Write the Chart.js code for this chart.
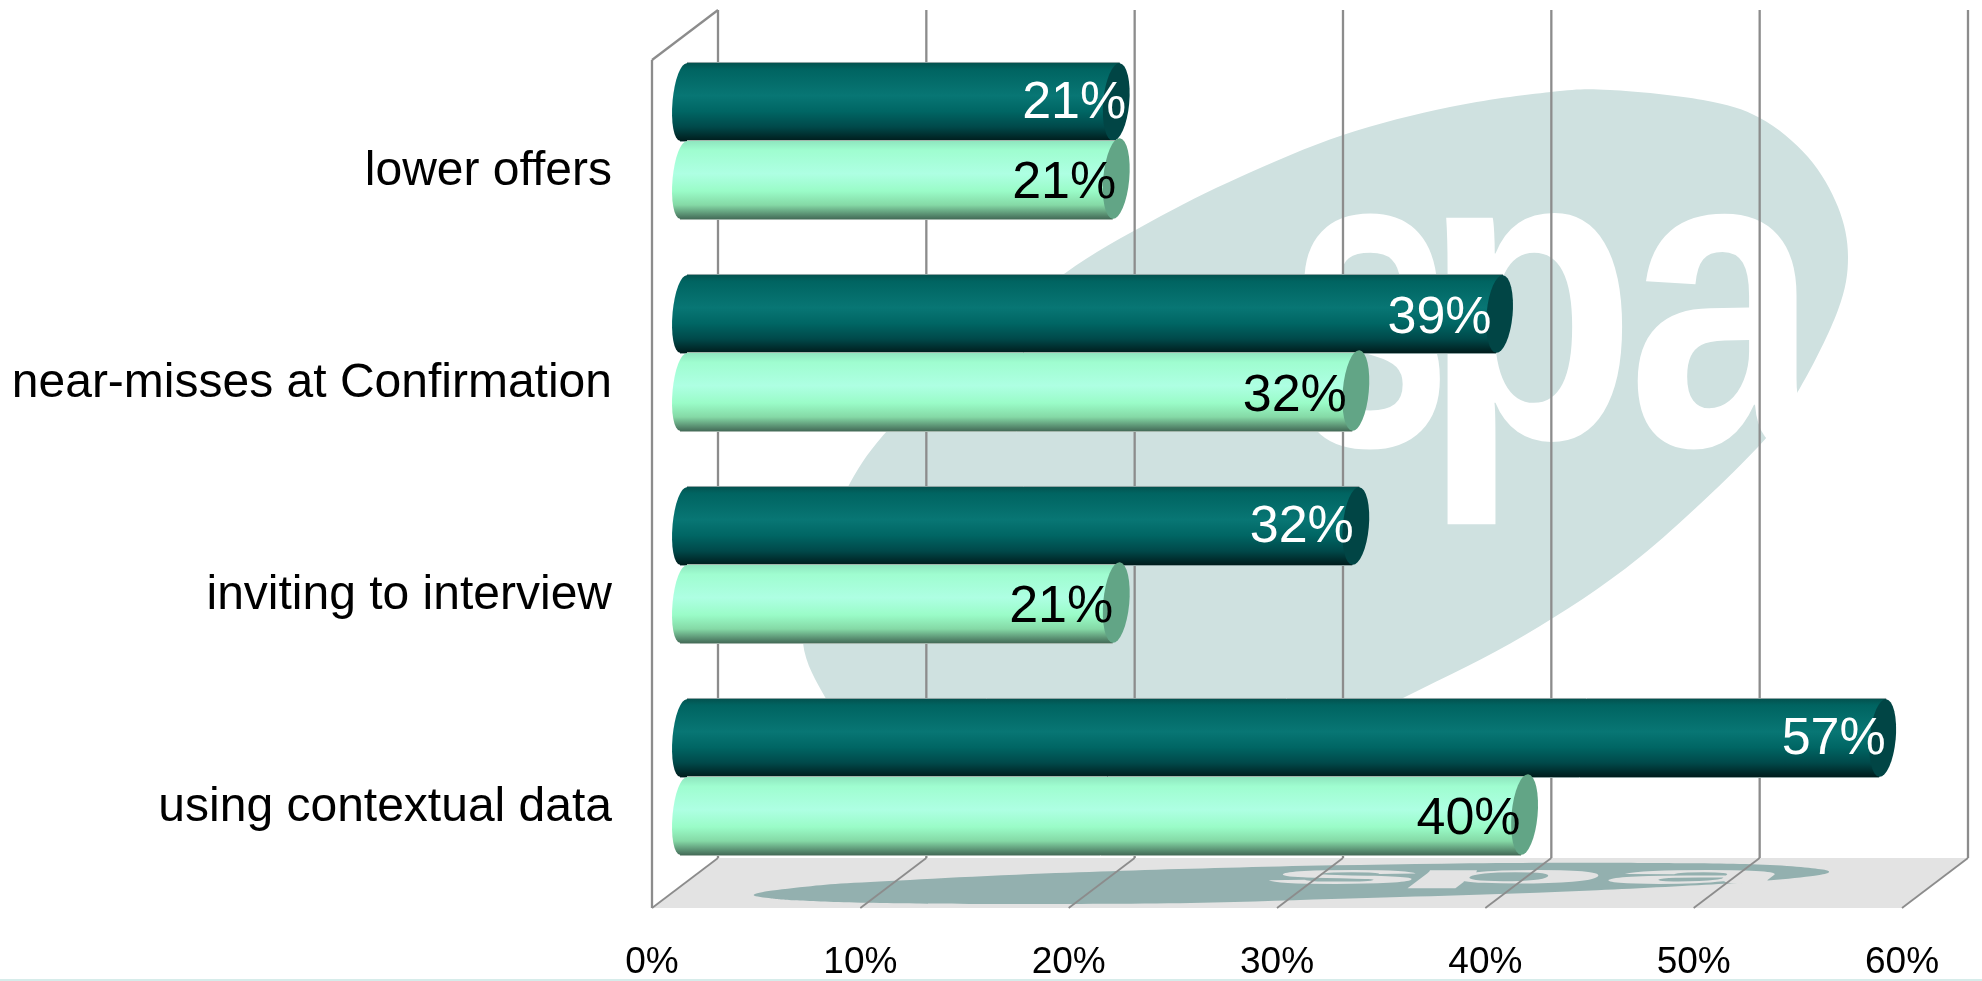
<!DOCTYPE html>
<html>
<head>
<meta charset="utf-8">
<title>Bar chart</title>
<style>
  html, body { margin: 0; padding: 0; background: #fff; overflow: hidden; }
  #wrap { position: relative; width: 1982px; height: 981px; }
</style>
<script src="https://cdn.jsdelivr.net/npm/chart.js@4"></script>
</head>
<body>
<div id="wrap"><canvas id="chart" width="1982" height="981"></canvas></div>
<script>
const categories = ['lower offers', 'near-misses at Confirmation', 'inviting to interview', 'using contextual data'];
const darkValues = [20.7, 39.1, 32.2, 57.49];
const lightValues = [20.7, 32.2, 20.7, 40.3];
const tickValues = [0, 10, 20, 30, 40, 50, 60];

// 3D box look: the plot area is the mid plane, back wall and front edge sit half a depth either side
const DEPTH_X = 33;
const DEPTH_Y = 25;
const FONT = '"Liberation Sans", Arial, sans-serif';
const GRID = '#8c8c8c';

// nudges of the value labels, they were hand placed in the original
const darkLabelShift = [10, -8, -2, 3];
const lightLabelShift = [0, -9, -3, -4];
const darkLabelDrop = [2, 5, 2, 2];
const lightLabelDrop = [4, 5, 4, 4];

const DARK_STOPS = [[0, '#03524f'], [0.08, '#006461'], [0.42, '#087674'], [0.62, '#006664'], [0.82, '#00494a'], [1, '#001c1c']];
const LIGHT_STOPS = [[0, '#8fe6bf'], [0.12, '#9ffdd0'], [0.42, '#aeffe3'], [0.64, '#9afcc8'], [0.82, '#85d9a6'], [1, '#446b58']];

// outline of the watermark logo, in page pixels on the back wall
const logoOutline = [
  [1551, 92], [1610, 90], [1703, 100], [1760, 118], [1808, 157], [1838, 207], [1848, 257], [1838, 310],
  [1800, 388], [1758, 447], [1640, 557], [1525, 635], [1403, 698], [1250, 772], [1050, 790], [920, 770], [850, 728],
  [825, 697], [803, 643], [812, 570], [848, 487], [887, 431], [960, 360], [1064, 274], [1150, 222], [1240, 177],
  [1343, 135], [1450, 107],
];
const logoLetters = [
  { ch: 's', x0: 1297, x1: 1440, y0: 210, y1: 452 },
  { ch: 'p', x0: 1445, x1: 1625, y0: 210, y1: 529 },
  { ch: 'a', x0: 1633, x1: 1822, y0: 210, y1: 452 },
];

function splinePath(ctx, pts) {
  const n = pts.length;
  ctx.beginPath();
  ctx.moveTo(pts[0][0], pts[0][1]);
  for (let i = 0; i < n; i++) {
    const p0 = pts[(i - 1 + n) % n], p1 = pts[i], p2 = pts[(i + 1) % n], p3 = pts[(i + 2) % n];
    ctx.bezierCurveTo(
      p1[0] + (p2[0] - p0[0]) / 6, p1[1] + (p2[1] - p0[1]) / 6,
      p2[0] - (p3[0] - p1[0]) / 6, p2[1] - (p3[1] - p1[1]) / 6,
      p2[0], p2[1]);
  }
  ctx.closePath();
}

function drawLogo(ctx, shapeColor, letterColor) {
  ctx.fillStyle = shapeColor;
  splinePath(ctx, logoOutline);
  ctx.fill();
  ctx.fillStyle = letterColor;
  ctx.textAlign = 'left';
  ctx.textBaseline = 'alphabetic';
  ctx.font = 'bold 300px ' + FONT;
  logoLetters.forEach((l) => {
    const m = ctx.measureText(l.ch);
    const w = m.actualBoundingBoxLeft + m.actualBoundingBoxRight;
    const h = m.actualBoundingBoxAscent + m.actualBoundingBoxDescent;
    ctx.save();
    ctx.translate(l.x0, l.y0);
    ctx.scale((l.x1 - l.x0) / w, (l.y1 - l.y0) / h);
    ctx.fillText(l.ch, m.actualBoundingBoxLeft, m.actualBoundingBoxAscent);
    ctx.restore();
  });
}

function line(ctx, x0, y0, x1, y1) {
  ctx.beginPath();
  ctx.moveTo(x0, y0);
  ctx.lineTo(x1, y1);
  ctx.stroke();
}

const boxPlugin = {
  id: 'box',
  beforeDatasetsDraw(chart) {
    const ctx = chart.ctx;
    const xs = chart.scales.x;
    const area = chart.chartArea;
    const backTop = area.top - DEPTH_Y;
    const backBottom = area.bottom - DEPTH_Y;
    const frontTop = area.top + DEPTH_Y;
    const frontBottom = area.bottom + DEPTH_Y;
    const x0 = xs.getPixelForValue(0);
    const x60 = xs.getPixelForValue(60);

    ctx.save();
    // thin line along the bottom of the slide
    ctx.fillStyle = '#d6ecea';
    ctx.fillRect(0, 979, chart.width, 2);

    drawLogo(ctx, '#cfe1e0', '#ffffff');

    // floor with the logo lying flat on it
    ctx.fillStyle = '#e3e3e3';
    ctx.beginPath();
    ctx.moveTo(x0 + DEPTH_X, backBottom);
    ctx.lineTo(x60 + DEPTH_X, backBottom);
    ctx.lineTo(x60 - DEPTH_X, frontBottom);
    ctx.lineTo(x0 - DEPTH_X, frontBottom);
    ctx.closePath();
    ctx.fill();

    const wallH = backBottom - backTop;
    const skewX = -2 * DEPTH_X / wallH;
    const skewY = 2 * DEPTH_Y / wallH;
    ctx.save();
    ctx.transform(1, 0, skewX, skewY, -skewX * backTop, backBottom - skewY * backTop);
    drawLogo(ctx, '#93b0af', '#e3e3e3');
    ctx.restore();

    ctx.strokeStyle = GRID;
    tickValues.forEach((v) => {
      const x = xs.getPixelForValue(v);
      ctx.lineWidth = 2.3;
      line(ctx, x + DEPTH_X, backTop, x + DEPTH_X, backBottom);
      ctx.lineWidth = 1.8;
      line(ctx, x + DEPTH_X, backBottom, x - DEPTH_X, frontBottom);
    });
    ctx.lineWidth = 2.3;
    line(ctx, x0 - DEPTH_X, frontTop, x0 - DEPTH_X, frontBottom);
    line(ctx, x0 - DEPTH_X, frontTop, x0 + DEPTH_X, backTop);
    ctx.restore();
  },
  // the library lays the bars out, the cylinders below are painted from that layout
  beforeDatasetDraw() {
    return false;
  },
  afterDatasetsDraw(chart) {
    const ctx = chart.ctx;
    chart.data.datasets.forEach((ds, di) => {
      chart.getDatasetMeta(di).data.forEach((bar) => drawCylinder(ctx, bar, ds));
    });
    ctx.save();
    ctx.font = '52px ' + FONT;
    ctx.textAlign = 'right';
    ctx.textBaseline = 'middle';
    chart.data.datasets.forEach((ds, di) => {
      chart.getDatasetMeta(di).data.forEach((bar, i) => {
        ctx.fillStyle = ds.labelColor;
        ctx.fillText(Math.round(ds.data[i]) + '%', bar.x + ds.labelShift[i], bar.y + ds.labelDrop[i]);
      });
    });
    ctx.restore();
  },
};

function drawCylinder(ctx, bar, ds) {
  const h = bar.height;
  const top = bar.y - h / 2;
  const bottom = bar.y + h / 2;
  const tilt = 3.5;
  const angle = Math.atan(tilt / (h / 2));
  const x0 = bar.base - 1.5;
  const x1 = bar.x;

  const grad = ctx.createLinearGradient(0, top, 0, bottom);
  ds.stops.forEach((s) => grad.addColorStop(s[0], s[1]));

  ctx.save();
  ctx.fillStyle = grad;
  ctx.beginPath();
  ctx.ellipse(x0, bar.y, 11, h / 2, angle, 0, Math.PI * 2);
  ctx.fill();
  ctx.beginPath();
  ctx.moveTo(x0 + tilt, top);
  ctx.lineTo(x1 + tilt, top);
  ctx.lineTo(x1 - tilt, bottom);
  ctx.lineTo(x0 - tilt, bottom);
  ctx.closePath();
  ctx.fill();

  ctx.strokeStyle = ds.edgeColor;
  ctx.lineWidth = 1;
  line(ctx, x0 + tilt, top - 0.5, x1 + tilt, top - 0.5);
  line(ctx, x0 - tilt, bottom + 0.5, x1 - tilt, bottom + 0.5);

  ctx.fillStyle = ds.capColor;
  ctx.beginPath();
  ctx.ellipse(x1, bar.y + ds.capLift, 13, h / 2 - ds.capLift, angle, 0, Math.PI * 2);
  ctx.fill();
  ctx.restore();
}

new Chart(document.getElementById('chart'), {
  type: 'bar',
  plugins: [boxPlugin],
  data: {
    labels: categories,
    datasets: [
      {
        data: darkValues,
        backgroundColor: '#087674',
        stops: DARK_STOPS,
        capColor: '#014545',
        capLift: 0,
        edgeColor: '#8da3a3',
        labelColor: '#ffffff',
        labelShift: darkLabelShift,
        labelDrop: darkLabelDrop,
      },
      {
        data: lightValues,
        backgroundColor: '#aeffe3',
        stops: LIGHT_STOPS,
        capColor: '#62a586',
        capLift: -1.5,
        edgeColor: '#a3b5ab',
        labelColor: '#000000',
        labelShift: lightLabelShift,
        labelDrop: lightLabelDrop,
      },
    ],
  },
  options: {
    indexAxis: 'y',
    responsive: false,
    animation: false,
    layout: { padding: { top: 35, right: 47, left: 0, bottom: 0 } },
    plugins: { legend: { display: false }, tooltip: { enabled: false } },
    datasets: { bar: { categoryPercentage: 0.736, barPercentage: 1 } },
    scales: {
      x: {
        min: 0,
        max: 60,
        // tick padding would otherwise eat into the plot area
        afterFit(scale) { scale.height = 98; scale.paddingLeft = 0; scale.paddingRight = 0; },
        grid: { display: false, drawTicks: false },
        border: { display: false },
        ticks: {
          stepSize: 10,
          maxRotation: 0,
          padding: 58,
          labelOffset: -DEPTH_X,
          color: '#000000',
          font: { family: FONT, size: 37 },
          callback: (v) => v + '%',
        },
      },
      y: {
        afterFit(scale) { scale.width = 685; scale.paddingTop = 0; scale.paddingBottom = 0; },
        grid: { display: false, drawTicks: false },
        border: { display: false },
        ticks: {
          padding: 73,
          labelOffset: DEPTH_Y + 6,
          color: '#000000',
          font: { family: FONT, size: 48 },
        },
      },
    },
  },
});
</script>
</body>
</html>
